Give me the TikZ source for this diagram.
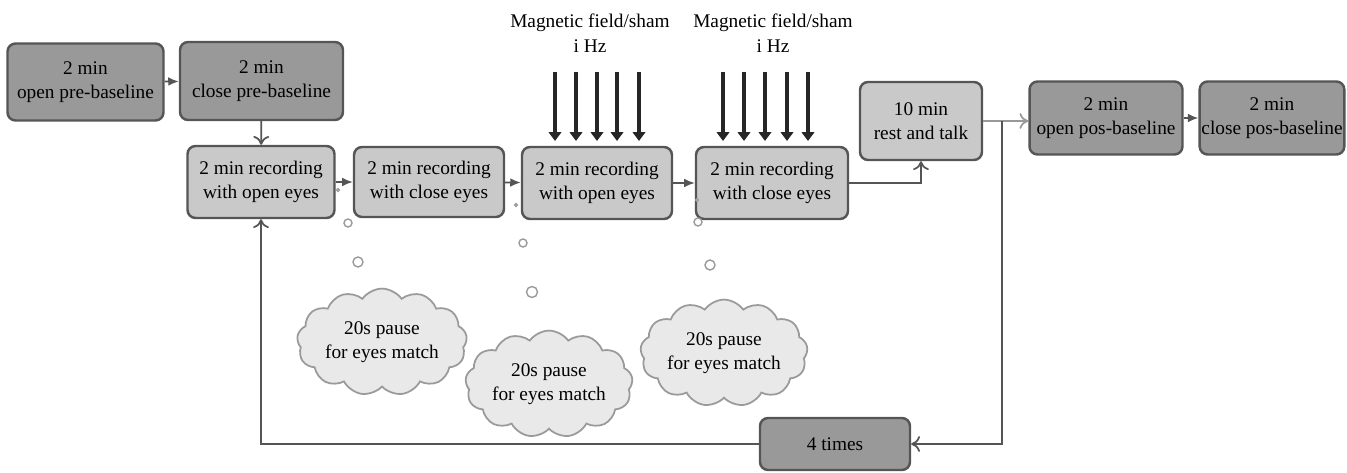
\documentclass[tikz,border=0pt]{standalone}
\usepackage{fontspec}
\setmainfont{Liberation Serif}
\usetikzlibrary{shapes.symbols,arrows.meta}

\definecolor{boxline}{HTML}{555555}
\definecolor{darkfill}{HTML}{999999}
\definecolor{lightfill}{HTML}{C9C9C9}
\definecolor{cloudfill}{HTML}{E9E9E9}
\definecolor{cloudline}{HTML}{9A9A9A}

\tikzset{
  stagebox/.style = {draw = boxline, line width = 1.4pt, rounded corners = 0.16cm, align = center,
                     inner sep = 1pt, font = \fontsize{11}{14}\selectfont},
  basebox/.style = {stagebox, fill = darkfill},
  recbox/.style = {stagebox, fill = lightfill},
  pausecloud/.style = {cloud, cloud puffs = 13, cloud puff arc = 110, aspect = 1.8, draw = cloudline,
                       line width = 1pt, fill = cloudfill, align = center, inner sep = 0pt,
                       font = \fontsize{11}{14}\selectfont},
  bubble/.style = {draw = cloudline, line width = 0.8pt, fill = white},
  flow/.style = {draw = boxline, line width = 1pt, -{Latex[length = 6pt, width = 5pt]}},
  loop/.style = {draw = boxline, line width = 1pt, -{To[length = 5pt, width = 9pt]}},
  magarrow/.style = {draw = black!85, line width = 2.4pt, -{Triangle[length = 5pt, width = 7pt]}}
}

\begin{document}
\begin{tikzpicture} [x = 0.02cm, y = -0.02cm]
\useasboundingbox (0, 0) rectangle (1347, 473);

% baseline blocks
\node[basebox, minimum width = 3.12cm, minimum height = 1.54cm] (openpre) at (85.5, 82){2 min\\open pre-baseline};
\node[basebox, minimum width = 3.26cm, minimum height = 1.56cm] (closepre) at (261.5, 81){2 min\\close pre-baseline};
\node[basebox, minimum width = 3.06cm, minimum height = 1.46cm] (openpos) at (1106, 118){2 min\\open pos-baseline};
\node[basebox, minimum width = 2.82cm, minimum height = 1.46cm] (closepos) at (1272, 118){2 min\\close pos-baseline};

% recordings
\node[recbox, minimum width = 2.94cm, minimum height = 1.44cm] (recA) at (261, 182){2 min recording\\with open eyes};
\node[recbox, minimum width = 3.00cm, minimum height = 1.40cm] (recB) at (429, 182){2 min recording\\with close eyes};
\node[recbox, minimum width = 3.00cm, minimum height = 1.44cm] (recC) at (597, 183){2 min recording\\with open eyes};
\node[recbox, minimum width = 3.04cm, minimum height = 1.44cm] (recD) at (772, 183){2 min recording\\with close eyes};
\node[recbox, minimum width = 2.44cm, minimum height = 1.56cm] (rest) at (921, 121){10 min\\rest and talk};
\node[basebox, minimum width = 3.00cm, minimum height = 1.04cm] (times) at (835, 444){4 times};

% stimulation
\node[align = center, font = \fontsize{11}{14}\selectfont] (magA) at (590, 33){Magnetic field/sham\\i Hz};
\node[align = center, font = \fontsize{11}{14}\selectfont] (magB) at (773, 33){Magnetic field/sham\\i Hz};
\foreach \x in {555, 576, 597, 617, 639, 723, 744, 765, 787, 808}
  \draw[magarrow] (\x, 72) -- (\x, 141);

% pauses
\node[pausecloud, minimum width = 3.4cm, minimum height = 1.9cm] (pauseA) at (382, 342){20s pause\\for eyes match};
\node[pausecloud, minimum width = 3.3cm, minimum height = 2.1cm] (pauseB) at (549, 384){20s pause\\for eyes match};
\node[pausecloud, minimum width = 3.1cm, minimum height = 2.0cm] (pauseC) at (724, 353){20s pause\\for eyes match};
\draw[bubble] (338, 190) circle (1.5) (348, 223) circle (4) (358, 262) circle (5);
\draw[bubble] (516, 205) circle (1.5) (523, 243) circle (4) (532, 292) circle (5.5);
\draw[bubble] (697, 200) circle (1.5) (698, 222) circle (4) (710, 265) circle (5);

% connectors
\draw[flow] (openpre) -- (closepre);
\draw[loop] (closepre) -- (recA);
\draw[flow] (recA) -- (recB);
\draw[flow] (recB) -- (recC);
\draw[flow] (recC) -- (recD);
\draw[loop] (recD.east) -| (rest.south);
\coordinate (split) at (1002, 121);
\draw[draw = black!40, line width = 1pt, -{To[length = 5pt, width = 9pt]}] (rest.east) -- (openpos.west |- rest.east);
\draw[flow] (openpos) -- (closepos);
\draw[loop] (split) |- (times.east);
\draw[loop] (times.west) -| (recA.south);
\end{tikzpicture}
\end{document}
